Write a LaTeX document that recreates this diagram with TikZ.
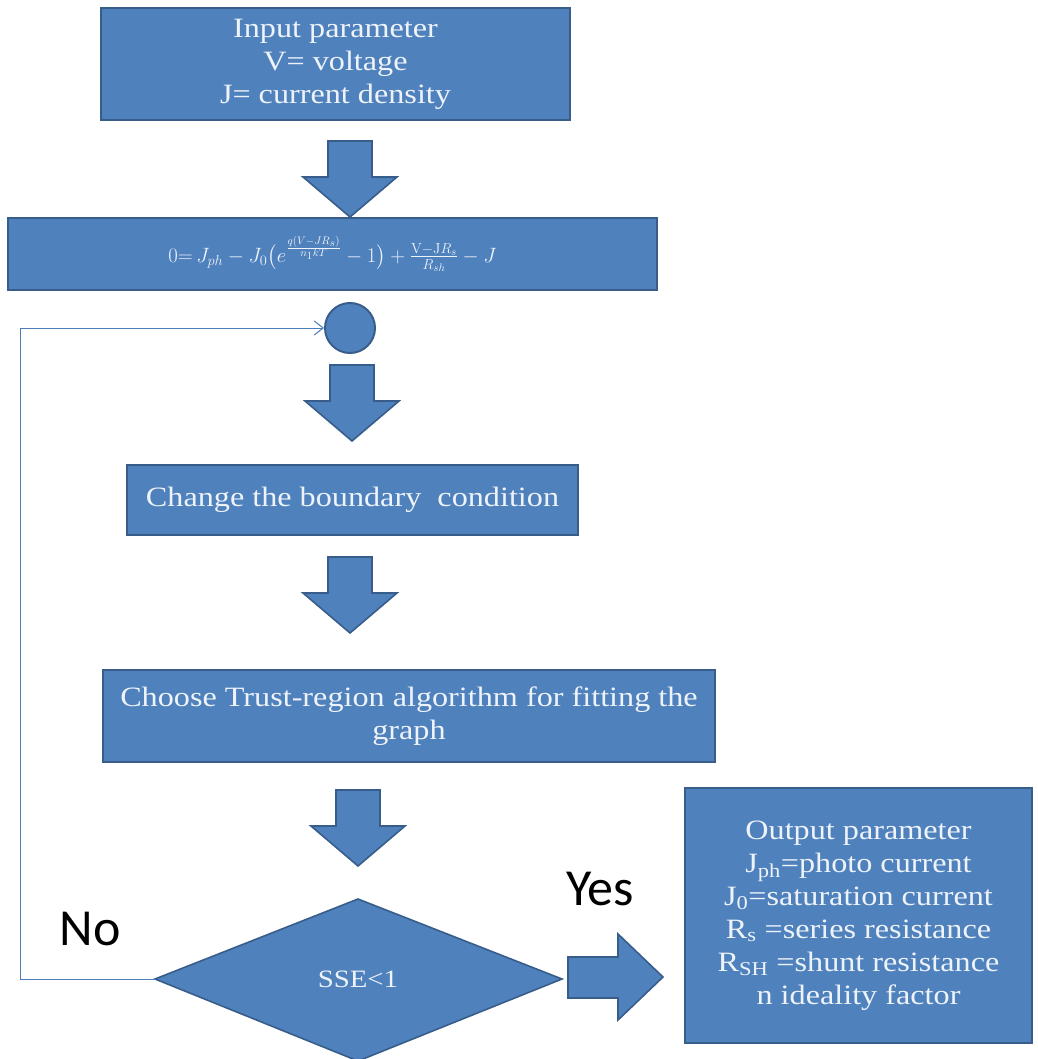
\documentclass[tikz,border=0pt]{standalone}
\usepackage{fontspec}
\usepackage{amsmath}
\usetikzlibrary{arrows.meta}
\newfontfamily\bodyfont[FakeStretch=1.15]{Liberation Serif}
\newfontfamily\labfont{Carlito}
\definecolor{boxfill}{HTML}{4F81BD}
\definecolor{boxline}{HTML}{385D8A}
\definecolor{loopline}{HTML}{4A7EBB}
\definecolor{txt}{HTML}{EEF3FA}
\tikzset{
  box/.style={draw=boxline, line width=2.6pt, fill=boxfill, text=txt, align=center, inner sep=0pt,
     font=\bodyfont\fontsize{28}{33}\selectfont},
  blockarrow/.style={draw=boxline, line width=1.6pt, fill=boxfill, line join=miter},
  loopline/.style={draw=loopline, line width=1pt},
  lab/.style={font=\labfont\fontsize{52}{60}\selectfont, text=black, inner sep=0pt}
}
\newcommand\darrowblock[2]{% center x, top y
  \path[blockarrow] (#1-22,#2) -- (#1+22,#2) -- (#1+22,#2+36) -- (#1+47,#2+36) -- (#1,#2+76)
     -- (#1-47,#2+36) -- (#1-22,#2+36) -- cycle;}
\begin{document}
\begin{tikzpicture}[x=1pt,y=-1pt]
\useasboundingbox (0,0) rectangle (1037,1059);
% boxes
\node[box, minimum width=469, minimum height=112] (in) at (335.5,64)
  {Input parameter\\V= voltage\\J= current density};
\darrowblock{350}{141}
\node[box, minimum width=649, minimum height=72, font=\fontsize{21}{24}\selectfont] (eq) at (332.5,254)
  {$0{=}\,J_{ph} - J_0\bigl(e^{\frac{q(V-JR_s)}{n_1kT}} - 1\bigr) + \frac{\mathrm{V-J}R_s}{R_{sh}} - J$};
\node[draw=boxline, line width=2pt, fill=boxfill, circle, minimum size=50, inner sep=0pt] (c) at (350,328) {};
\darrowblock{352}{365}
\node[box, minimum width=451, minimum height=70] (bc) at (352.5,500)
  {Change the boundary\ \ condition};
\darrowblock{350}{557}
\node[box, minimum width=612, minimum height=92] (tr) at (409,716)
  {Choose Trust-region\ algorithm for fitting the\\graph};
\darrowblock{358}{790}
% diamond
\coordinate (dt) at (358,899);
\coordinate (dr) at (562,979);
\coordinate (db) at (358,1061);
\coordinate (dl) at (155,979);
\path[draw=boxline, line width=1.6pt, fill=boxfill] (dt) -- (dr) -- (db) -- (dl) -- cycle;
\node[text=txt, font=\bodyfont\fontsize{25}{28}\selectfont] (sse) at (358,979) {SSE<1};
% yes arrow
\path[blockarrow] (568,957) -- (618,957) -- (618,934) -- (663,977) -- (618,1020) -- (618,998) -- (568,998) -- cycle;
% output box
\node[box, minimum width=347, minimum height=255] (out) at (858.5,915.5)
  {Output parameter\\
   J\textsubscript{ph}=photo\ current\\
   J\textsubscript{0}=saturation\ current\\
   R\textsubscript{s} =series\ resistance\\
   R\textsubscript{SH} =shunt resistance\\
   n ideality\ factor};
% loop
\coordinate (l1) at (20,979);
\coordinate (l2) at (20,328);
\draw[loopline, -{Straight Barb[length=9pt,width=14pt]}] (dl) -- (l1) -- (l2) -- (c.west);
% labels
\node[lab] (no) at (90,929) {No};
\node[lab] (yes) at (600,889) {Yes};
\end{tikzpicture}
\end{document}
